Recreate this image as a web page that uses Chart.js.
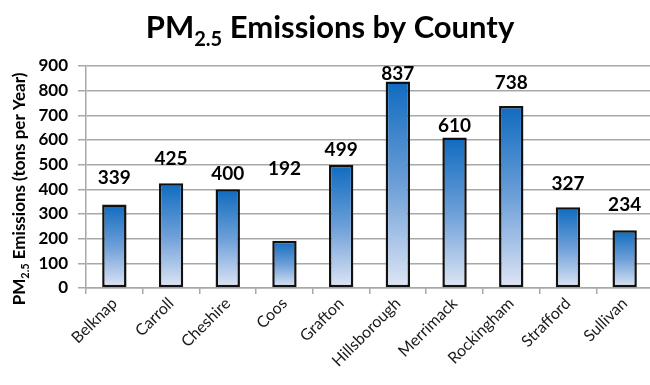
<!DOCTYPE html>
<html>
<head>
<meta charset="utf-8">
<script src="https://cdn.jsdelivr.net/npm/chart.js@4/dist/chart.umd.min.js"></script>
<style>
  html, body { margin: 0; padding: 0; background: #fff; overflow: hidden; }
  #wrap { width: 653px; height: 385px; }
</style>
</head>
<body>
<div id="wrap"><canvas id="chart" width="653" height="385"></canvas></div>
<script>
// PM2.5 emissions per county (tons per year)
const counties = ['Belknap', 'Carroll', 'Cheshire', 'Coos', 'Grafton',
                  'Hillsborough', 'Merrimack', 'Rockingham', 'Strafford', 'Sullivan'];
const emissions = [339, 425, 400, 192, 499, 837, 610, 738, 327, 234];
const yTicks = [0, 100, 200, 300, 400, 500, 600, 700, 800, 900];

// distance (px) between each bar top and the baseline of its value label
const labelGap = [20, 18, 9, 66, 9, 2, 6, 17, 17, 19];

const FONT = 'Lato, "Open Sans", "Liberation Sans", sans-serif';
const GRID = '#a8a8a8';

// Title with a subscript "2.5"
const titlePlugin = {
  id: 'pmTitle',
  afterDraw(chart) {
    const c = chart.ctx;
    c.save();
    c.fillStyle = '#000';
    c.textBaseline = 'alphabetic';
    const big = 'bold 31px ' + FONT, small = 'bold 20px ' + FONT;
    const parts = [['PM', big, 0], ['2.5', small, 8], [' Emissions by County', big, 0]];
    let w = 0;
    parts.forEach(p => { c.font = p[1]; w += c.measureText(p[0]).width; });
    let x = 330 - w / 2;
    parts.forEach(p => {
      c.font = p[1];
      c.textAlign = 'left';
      c.fillText(p[0], x, 38 + p[2]);
      x += c.measureText(p[0]).width;
    });

    // rotated y-axis title
    c.translate(19, 189);
    c.rotate(-Math.PI / 2);
    const yb = 'bold 17px ' + FONT, ys = 'bold 11px ' + FONT;
    const yparts = [['PM', yb, 0], ['2.5', ys, 4], [' Emissions (tons per Year)', yb, 0]];
    let yw = 0;
    yparts.forEach(p => { c.font = p[1]; yw += c.measureText(p[0]).width; });
    let yx = -yw / 2;
    yparts.forEach(p => {
      c.font = p[1];
      c.fillText(p[0], yx, 6 + p[2]);
      yx += c.measureText(p[0]).width;
    });
    c.restore();
  }
};

// Value labels above the bars
const valueLabels = {
  id: 'valueLabels',
  afterDatasetsDraw(chart) {
    const c = chart.ctx;
    const meta = chart.getDatasetMeta(0);
    c.save();
    c.font = 'bold 19px ' + FONT;
    c.fillStyle = '#000';
    c.textAlign = 'center';
    c.textBaseline = 'alphabetic';
    meta.data.forEach((bar, i) => {
      c.fillText(String(emissions[i]), bar.x, bar.y - labelGap[i]);
    });
    c.restore();
  }
};

function barFill(ctx) {
  const chart = ctx.chart;
  if (!chart.chartArea || ctx.dataIndex === undefined) return '#5a96d4';
  const y = chart.scales.y;
  const top = y.getPixelForValue(emissions[ctx.dataIndex]);
  const base = y.getPixelForValue(0);
  const g = chart.ctx.createLinearGradient(0, top, 0, base);
  g.addColorStop(0, '#0f6bbf');
  g.addColorStop(0.5, '#6d9fd8');
  g.addColorStop(1, '#dfe6f5');
  return g;
}

new Chart(document.getElementById('chart'), {
  type: 'bar',
  data: {
    labels: counties,
    datasets: [{
      data: emissions,
      backgroundColor: barFill,
      borderColor: '#111',
      borderWidth: 2.5,
      borderSkipped: false,
      categoryPercentage: 1,
      barPercentage: 0.43
    }]
  },
  options: {
    responsive: false,
    devicePixelRatio: 1,
    animation: false,
    layout: { padding: { top: 66, left: 0, right: 0, bottom: 0 } },
    plugins: { legend: { display: false }, title: { display: false }, tooltip: { enabled: false } },
    scales: {
      x: {
        afterFit(scale) { scale.height = 97; },
        grid: { display: true, drawOnChartArea: false, drawTicks: true, tickLength: 6, color: GRID, lineWidth: 1.5, offset: true },
        border: { display: true, color: GRID, width: 1.5 },
        ticks: {
          color: '#1a1a1a',
          font: { family: FONT, size: 16 },
          maxRotation: 45, minRotation: 45,
          padding: 0,
          autoSkip: false
        }
      },
      y: {
        min: yTicks[0],
        max: yTicks[yTicks.length - 1],
        afterFit(scale) { scale.width = 86; },
        afterBuildTicks(scale) { scale.ticks = yTicks.map(v => ({ value: v })); },
        grid: { color: GRID, lineWidth: 1.5, tickLength: 8, drawTicks: true },
        border: { display: true, color: GRID, width: 1.5 },
        ticks: {
          color: '#000',
          font: { family: FONT, size: 17, weight: 'bold' },
          padding: 10
        }
      }
    }
  },
  plugins: [titlePlugin, valueLabels]
});
</script>
</body>
</html>
